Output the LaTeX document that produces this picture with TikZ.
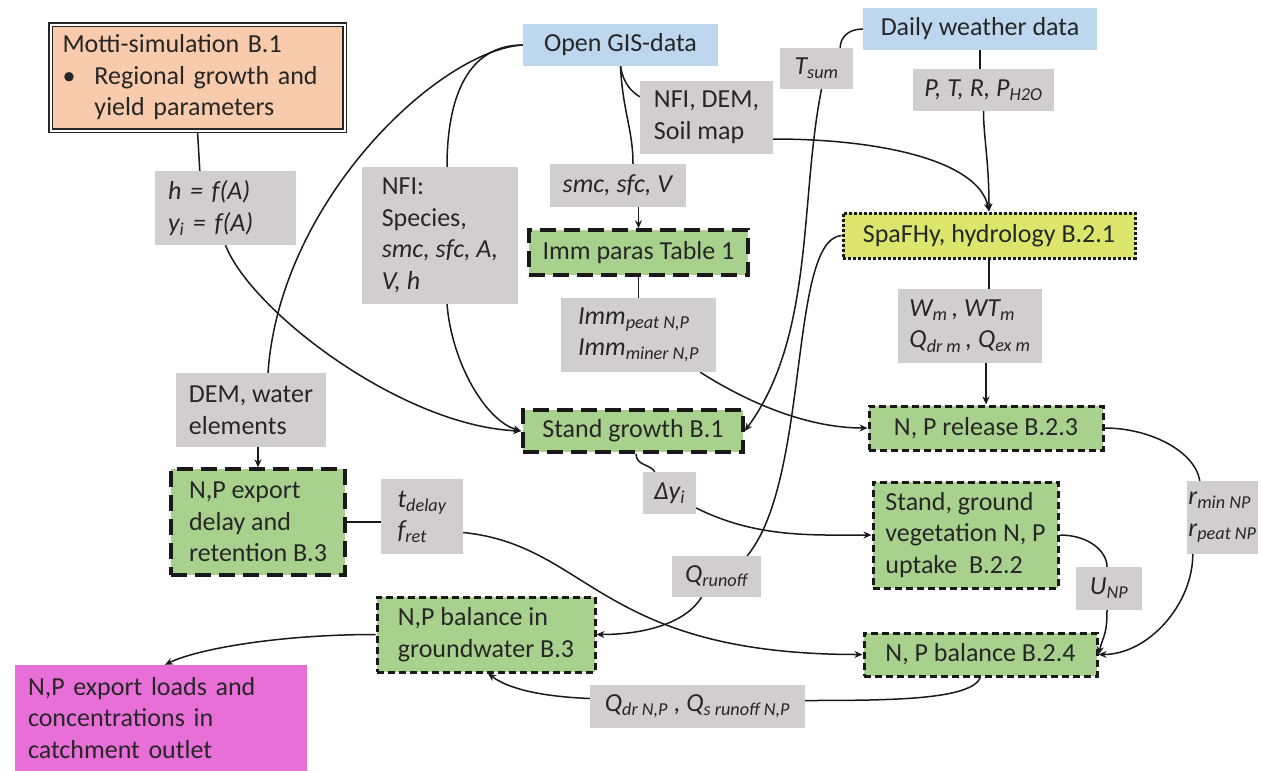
\documentclass[tikz,border=0pt]{standalone}
\usepackage{fontspec}
\setmainfont{Carlito}
\usetikzlibrary{calc,arrows.meta,backgrounds}
\definecolor{lgray}{RGB}{208,206,206}
\definecolor{lgreen}{RGB}{169,209,142}
\definecolor{lblue}{RGB}{189,215,238}
\definecolor{peach}{RGB}{248,203,173}
\definecolor{magent}{RGB}{232,111,216}
\definecolor{ylw}{RGB}{220,230,108}
\newcommand{\mysub}[1]{\textsubscript{\itshape #1}}
\newcommand{\fsz}{\fontsize{26}{31.5}\selectfont}
\begin{document}
\begin{tikzpicture}[x=1pt,y=-1pt,
 base/.style={inner sep=0pt, align=left, font=\fsz, text=black!85},
 lab/.style={base, fill=lgray},
 src/.style={base, fill=lblue},
 longd/.style={base, fill=lgreen, draw=black!90, line width=3.5pt, dash pattern=on 16pt off 8pt},
 shortd/.style={base, fill=lgreen, draw=black!90, line width=3pt, dash pattern=on 7pt off 4pt},
 dotd/.style={base, fill=ylw, draw=black!90, line width=3pt, dash pattern=on 3pt off 2pt},
 conn/.style={line width=1.5pt, draw=black!90},
 arr/.style={conn, -{Stealth[length=8pt,width=7pt]}},
]
\useasboundingbox (0,0) rectangle (1261,771);

% ---------- nodes ----------
\node[base, fill=peach, draw=black!85, line width=1.5pt, double=white, double distance=2pt,
      minimum width=294, minimum height=106, text width=270, inner xsep=12]
      (motti) at (197.5,77.5)
      {Motti-simulation B.1\\\makebox[32pt][l]{\textbullet}Regional growth and\\\hspace*{32pt}yield parameters};
\node[src, minimum width=195, minimum height=42] (gis) at (620.5,45) {Open GIS-data};
\node[src, minimum width=234, minimum height=42] (weather) at (980,29) {Daily weather data};
\node[lab, minimum width=73, minimum height=41] (tsum) at (816.5,68.5) {\textit{T\mysub{sum}}};
\node[lab, minimum width=141, minimum height=42] (ptr) at (983.5,90) {\textit{P, T, R, P\mysub{H2O}}};
\node[lab, minimum width=133, minimum height=73] (nds) at (706.5,117.5) {NFI, DEM,\\Soil map};
\node[lab, minimum width=136, minimum height=43] (smc) at (618,185.5) {\textit{smc, sfc, V}};
\node[longd, minimum width=219, minimum height=45] (imm) at (638.5,252.5) {Imm paras Table 1};
\node[dotd, minimum width=292, minimum height=45] (spa) at (989,235.5) {SpaFHy, hydrology B.2.1};
\node[lab, minimum width=141, minimum height=74, text width=115, inner xsep=13] (hf) at (225.5,208)
      {\textit{h = f(A)}\\\textit{y\mysub{i} = f(A)}};
\node[lab, minimum width=156, minimum height=137] (nfi) at (440,235.5)
      {NFI:\\Species,\\\textit{smc, sfc, A,}\\\textit{V, h}};
\node[lab, minimum width=155, minimum height=74] (immsub) at (638.5,335)
      {\textit{Imm\mysub{peat N,P}}\\\textit{Imm\mysub{miner N,P}}};
\node[lab, minimum width=144, minimum height=74] (wm) at (970,326)
      {\textit{W\mysub{m}\,, WT\mysub{m}}\\\textit{Q\mysub{dr m}\,, Q\mysub{ex m}}};
\node[lab, minimum width=150, minimum height=74] (dem) at (251,410) {DEM, water\\elements};
\node[longd, minimum width=220, minimum height=42] (sg) at (633,431) {Stand growth B.1};
\node[shortd, minimum width=234, minimum height=44] (rel) at (986,428) {N, P release B.2.3};
\node[longd, minimum width=174, minimum height=106] (exp) at (258,522) {N,P export\\delay and\\retention B.3};
\node[lab, minimum width=82, minimum height=75] (td) at (422,516.5) {\textit{t\mysub{delay}}\\\textit{f\mysub{ret}}};
\node[lab, minimum width=53, minimum height=42] (dy) at (669.5,493) {\textit{Δy\mysub{i}}};
\node[shortd, minimum width=185, minimum height=106] (sgv) at (965.5,535)
      {Stand, ground\\vegetation N, P\\uptake~ B.2.2};
\node[lab, minimum width=71, minimum height=73] (rmin) at (1222.5,517.5)
      {\textit{r\mysub{min NP}}\\\textit{r\mysub{peat NP}}};
\node[lab, minimum width=89, minimum height=41] (qr) at (716.5,576.5) {\textit{Q\mysub{runoff}}};
\node[lab, minimum width=66, minimum height=43] (unp) at (1109,588.5) {\textit{U\mysub{NP}}};
\node[shortd, minimum width=218, minimum height=75] (gw) at (486,634.5) {N,P balance in\\groundwater B.3};
\node[shortd, minimum width=233, minimum height=43] (bal) at (980.5,654.5) {N, P balance B.2.4};
\node[lab, minimum width=215, minimum height=43] (qdr) at (697.5,706.5)
      {\textit{Q\mysub{dr N,P}\ , Q\mysub{s runoff N,P}}};
\node[base, fill=magent, minimum width=292, minimum height=106, text width=266, inner xsep=13] (out) at (161,718)
      {N,P export loads and\\concentrations in\\catchment outlet};

% ---------- connectors ----------
\begin{scope}[on background layer]
\draw[conn] (motti.south) -- ($(hf.north west)+(45,0)$);
\draw[arr] (hf.south) .. controls +(25,65) and +(-120,-5) .. (sg.west);
\draw[conn] (gis.west) .. controls +(-55,0) and +(0,-70) .. ($(nfi.north)+(7,0)$);
\draw[conn] (gis.west) .. controls +(-83,5) and +(12,-173) .. ($(dem.north)+(17,0)$);
\draw[arr] ($(nfi.south)+(7,0)$) .. controls +(5,60) and +(-35,-10) .. (sg.west);
\draw[conn] (gis.south) .. controls +(2,44) and +(0,-34) .. ($(smc.north)+(15,0)$);
\draw[conn] (gis.south) .. controls +(3,18) and +(-8,-5) .. ($(nds.north west)+(0,16)$);
\draw[arr] (smc.south -| imm.north) -- (imm.north);
\draw[conn] (imm.south) -- (immsub.north);
\draw[arr] ($(immsub.south east)+(-16,0)$) .. controls +(55,35) and +(-55,0) .. (rel.west);
\draw[arr] ($(nds.east)+(0,21.5)$) .. controls +(110,0) and +(-10,-50) .. (spa.north);
\draw[conn] (weather.south) -- (weather.south |- ptr.north);
\draw[arr] (ptr.south) .. controls +(0,25) and +(0,-50) .. (spa.north);
\draw[conn] (weather.west) .. controls +(-15,0) and +(0,-10) .. ($(tsum.north east)+(-13,0)$);
\draw[arr] ($(tsum.south)+(5,0)$) .. controls +(-22,110) and +(70,-95) .. (sg.east);
\draw[conn] (spa.west) .. controls +(-53,4) and +(63,-76) .. ($(qr.north east)+(-14,0)$);
\draw[conn] (spa.south) -- (spa.south |- wm.north);
\draw[arr] (rel.north |- wm.south) -- (rel.north);
\draw[conn] (rel.east) .. controls +(45,0) and +(-5,-30) .. ($(rmin.north west)+(13,0)$);
\draw[arr] ($(rmin.south west)+(6,0)$) .. controls +(0,50) and +(50,0) .. (bal.east);
\draw[conn] ($(sg.south)+(3,0)$) .. controls +(0,12) and +(-5,-8) .. ($(dy.north west)+(12,0)$);
\draw[arr] ($(dy.east)+(0,15)$) .. controls +(60,30) and +(-60,0) .. (sgv.west);
\draw[conn] (sgv.east) .. controls +(30,0) and +(0,-15) .. ($(unp.north)+(-2,0)$);
\draw[arr] ($(unp.south)+(-2,0)$) .. controls +(0,25) and +(5,-20) .. (bal.east);
\draw[conn] (exp.east) -- (exp.east -| td.west);
\draw[arr] ($(td.east)+(0,16)$) .. controls +(127,13) and +(-264,0) .. (bal.west);
\draw[arr] ($(qr.south)+(-15,0)$) .. controls +(-15,25) and +(50,0) .. (gw.east);
\draw[arr] (dem.south -| exp.north) -- (exp.north);
\draw[arr] (gw.west) .. controls +(-100,0) and +(30,-15) .. ($(out.north)+(4,0)$);
\draw[conn] (bal.south) .. controls +(-10,22) and +(90,0) .. ($(qdr.east)+(0,-6)$);
\draw[arr] ($(qdr.west)+(0,-8)$) .. controls +(-50,-2) and +(20,15) .. ($(gw.south)+(2,0)$);
\end{scope}
\end{tikzpicture}
\end{document}
